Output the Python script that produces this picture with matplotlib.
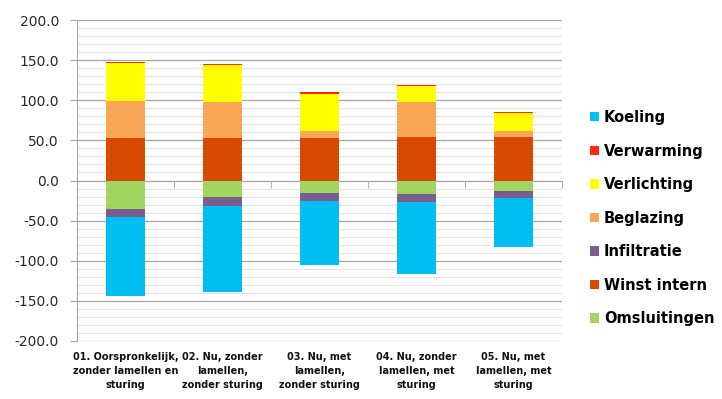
import matplotlib
matplotlib.use('Agg')
import matplotlib.pyplot as plt
import matplotlib.transforms as mtransforms
from matplotlib.patches import Patch
import numpy as np

plt.rcParams['font.family'] = ['DejaVu Sans']

# categorieën
categories = [
    '01. Oorspronkelijk,\nzonder lamellen en\nsturing',
    '02. Nu, zonder\nlamellen,\nzonder sturing',
    '03. Nu, met\nlamellen,\nzonder sturing',
    '04. Nu, zonder\nlamellen, met\nsturing',
    '05. Nu, met\nlamellen, met\nsturing',
]

# positieve posten (van onder naar boven)
winst_intern = [52.7, 52.7, 52.7, 54.8, 54.8]
beglazing = [46.5, 44.5, 8.6, 43.2, 7.4]
verlichting = [47.0, 46.9, 47.0, 19.8, 22.2]
verwarming = [1.3, 1.6, 1.7, 1.2, 1.3]

# negatieve posten (van 0 naar beneden)
omsluitingen = [-35.5, -20.6, -15.7, -16.9, -13.6]
infiltratie = [-9.5, -10.8, -10.3, -10.3, -8.3]
koeling = [-98.4, -107.9, -79.9, -89.0, -60.9]

colors = {
    'Koeling': '#00BEF2',
    'Verwarming': '#FF2A0A',
    'Verlichting': '#FFFF00',
    'Beglazing': '#F9A656',
    'Infiltratie': '#77608F',
    'Winst intern': '#D94A00',
    'Omsluitingen': '#A2D462',
}

fig = plt.figure(figsize=(7.22, 3.99), dpi=100)
ax = fig.add_axes([77 / 722, 58 / 399, 485 / 722, 321 / 399])

x = np.arange(len(categories))
w = 0.4

pos = [('Winst intern', winst_intern), ('Beglazing', beglazing),
       ('Verlichting', verlichting), ('Verwarming', verwarming)]
neg = [('Omsluitingen', omsluitingen), ('Infiltratie', infiltratie),
       ('Koeling', koeling)]

bottom = np.zeros(len(x))
for name, vals in pos:
    ax.bar(x, vals, w, bottom=bottom, color=colors[name], zorder=3)
    bottom += np.array(vals)

bottom = np.zeros(len(x))
for name, vals in neg:
    ax.bar(x, vals, w, bottom=bottom, color=colors[name], zorder=3)
    bottom += np.array(vals)

ax.set_xlim(-0.5, 4.5)
ax.set_ylim(-200, 200)
ax.set_yticks(np.arange(-200, 201, 50))
ax.set_yticklabels([f'{v:.1f}' for v in np.arange(-200, 201, 50)], fontsize=10, color='#2a2a2a')
ax.set_yticks(np.arange(-200, 201, 10), minor=True)
ax.grid(True, which='major', axis='y', color='#A6A6A6', linewidth=0.9, zorder=0)
ax.grid(True, which='minor', axis='y', color='#E3E3E3', linewidth=0.8, zorder=0)
ax.tick_params(axis='y', which='major', length=5, color='#A6A6A6', pad=8)
ax.tick_params(axis='y', which='minor', length=0)

# x-as op nul
ax.spines['bottom'].set_position(('data', 0))
ax.spines['bottom'].set_color('#A6A6A6')
ax.spines['left'].set_color('#A6A6A6')
ax.spines['top'].set_visible(False)
ax.spines['right'].set_visible(False)
ax.set_xticks([])
ax.set_xticks(np.arange(0.5, 4.6, 1), minor=True)
ax.tick_params(axis='x', which='minor', length=5, color='#A6A6A6', direction='out', labelbottom=False)

trans = mtransforms.blended_transform_factory(ax.transData, ax.transAxes)
for xi, lab in zip(x, categories):
    ax.text(xi, -0.033, lab, transform=trans, ha='center', va='top',
            fontsize=7.0, fontweight='bold', linespacing=1.5, color='#111111')

legend_order = ['Koeling', 'Verwarming', 'Verlichting', 'Beglazing',
                'Infiltratie', 'Winst intern', 'Omsluitingen']
handles = [Patch(facecolor=colors[n], label=n) for n in legend_order]
fig.legend(handles=handles, loc='upper left', bbox_to_anchor=(590 / 722, 1 - 110 / 399),
           frameon=False, prop={'weight': 'bold', 'size': 10.5},
           handlelength=0.6, handleheight=0.6, handletextpad=0.35,
           labelspacing=1.27, borderaxespad=0, borderpad=0)

fig.savefig('out.png', dpi=100)
